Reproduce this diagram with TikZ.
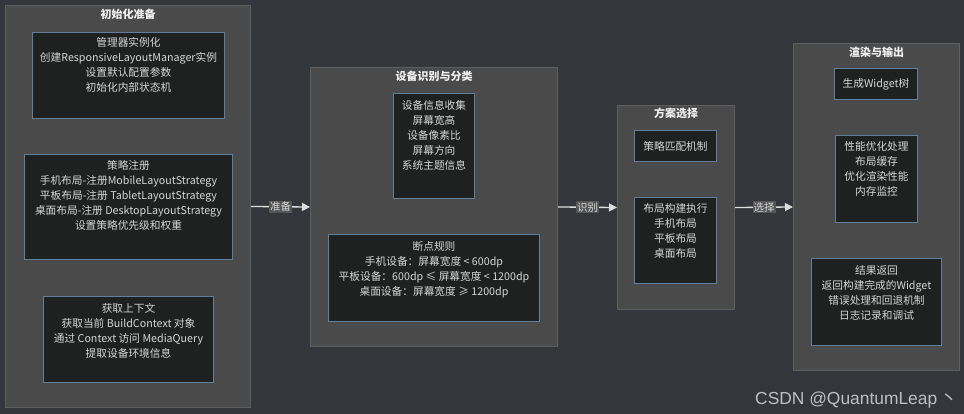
\documentclass[tikz,border=0pt]{standalone}
\usepackage{fontspec}
\setmainfont{Noto Sans CJK SC}
\newfontfamily\wmfont{Liberation Sans}
\usetikzlibrary{arrows.meta}
\definecolor{bgc}{HTML}{33373B}
\definecolor{clfill}{HTML}{4A4A4A}
\definecolor{cldraw}{HTML}{5E5E5E}
\definecolor{ndfill}{HTML}{1F2121}
\definecolor{nddraw}{HTML}{5F7F9C}
\definecolor{txt}{HTML}{D6D6D6}
\definecolor{ttl}{HTML}{F0F0F0}
\definecolor{arr}{HTML}{DDDDDD}
\definecolor{lblbg}{HTML}{555555}
\definecolor{wmc}{HTML}{BCC0C4}
\begin{document}
\begin{tikzpicture}[x=1pt,y=-1pt,
  cluster/.style={draw=cldraw,fill=clfill,line width=1pt,anchor=north west,inner sep=0pt},
  ndbox/.style={draw=nddraw,fill=ndfill,line width=1pt,anchor=north west,inner sep=0pt},
  ndtext/.style={text=txt,font=\fontsize{10.7}{15}\selectfont,align=center,inner sep=0pt,anchor=north},
  ctitle/.style={text=ttl,font=\fontsize{11}{13}\selectfont\bfseries,inner sep=0pt},
  edge/.style={draw=arr,line width=1.3pt,-{Triangle[length=8pt,width=8pt]}},
  elabel/.style={fill=lblbg,text=txt,font=\fontsize{10.5}{12}\selectfont,inner sep=1pt}
]
\fill[bgc] (0,0) rectangle (964,414);
\useasboundingbox (0,0) rectangle (964,414);

% clusters
\node[cluster,minimum width=245pt,minimum height=402pt] (c1) at (5,5) {};
\node[cluster,minimum width=247pt,minimum height=279pt] (c2) at (310,67) {};
\node[cluster,minimum width=117pt,minimum height=204pt] (c3) at (617,105) {};
\node[cluster,minimum width=166pt,minimum height=327pt] (c4) at (793,43) {};

\node[ctitle] (t1) at ([yshift=-9pt]c1.north) {初始化准备};
\node[ctitle] (t2) at ([yshift=-9pt]c2.north) {设备识别与分类};
\node[ctitle] (t3) at ([yshift=-8pt]c3.north) {方案选择};
\node[ctitle] (t4) at ([yshift=-9pt]c4.north) {渲染与输出};

% cluster 1 boxes
\node[ndbox,minimum width=192pt,minimum height=86pt] (n1a) at (32,32) {};
\node[ndtext] (n1at) at ([yshift=-5pt]n1a.north) {管理器实例化\\创建ResponsiveLayoutManager实例\\设置默认配置参数\\初始化内部状态机};
\node[ndbox,minimum width=208pt,minimum height=105pt] (n1b) at (24,154) {};
\node[ndtext] (n1bt) at ([yshift=-6pt]n1b.north) {策略注册\\手机布局-注册MobileLayoutStrategy\\平板布局-注册 TabletLayoutStrategy\\桌面布局-注册 DesktopLayoutStrategy\\设置策略优先级和权重};
\node[ndbox,minimum width=170pt,minimum height=86pt] (n1c) at (43,296) {};
\node[ndtext] (n1ct) at ([yshift=-7pt]n1c.north) {获取上下文\\获取当前 BuildContext 对象\\通过 Context 访问 MediaQuery\\提取设备环境信息};

% cluster 2 boxes
\node[ndbox,minimum width=81pt,minimum height=105pt] (n2a) at (393,93) {};
\node[ndtext] (n2at) at ([yshift=-7pt]n2a.north) {设备信息收集\\屏幕宽高\\设备像素比\\屏幕方向\\系统主题信息};
\node[ndbox,minimum width=211pt,minimum height=87pt] (n2b) at (328,234) {};
\node[ndtext] (n2bt) at ([yshift=-7pt]n2b.north) {断点规则\\手机设备：屏幕宽度 < 600dp\\平板设备：600dp ≤ 屏幕宽度 < 1200dp\\桌面设备：屏幕宽度 ≥ 1200dp};

% cluster 3 boxes
\node[ndbox,minimum width=82pt,minimum height=31pt] (n3a) at (634,130) {};
\node[text=txt,font=\fontsize{10.7}{15}\selectfont,inner sep=0pt] (n3at) at (n3a.center) {策略匹配机制};
\node[ndbox,minimum width=82pt,minimum height=86pt] (n3b) at (634,197) {};
\node[ndtext] (n3bt) at ([yshift=-6pt]n3b.north) {布局构建执行\\手机布局\\平板布局\\桌面布局};

% cluster 4 boxes
\node[ndbox,minimum width=83pt,minimum height=31pt] (n4a) at (834,68) {};
\node[text=txt,font=\fontsize{10.7}{15}\selectfont,inner sep=0pt] (n4at) at (n4a.center) {生成Widget树};
\node[ndbox,minimum width=82pt,minimum height=87pt] (n4b) at (835,135) {};
\node[ndtext] (n4bt) at ([yshift=-6pt]n4b.north) {性能优化处理\\布局缓存\\优化渲染性能\\内存监控};
\node[ndbox,minimum width=130pt,minimum height=87pt] (n4c) at (811,258) {};
\node[ndtext] (n4ct) at ([yshift=-7pt]n4c.north) {结果返回\\返回构建完成的Widget\\错误处理和回退机制\\日志记录和调试};

% edges
\draw[edge] (c1.east) -- node[elabel] (l1) {准备} (c2.west);
\draw[edge] (c2.east) -- node[elabel] (l2) {识别} (c3.west);
\draw[edge] (c3.east) -- node[elabel] (l3) {选择} (c4.west);

% watermark
\node[anchor=base west,text=wmc,font=\wmfont\fontsize{17.4}{20}\selectfont,inner sep=0pt] (wm) at (755,404) {CSDN @QuantumLeap\,{\normalfont 丶}};
\end{tikzpicture}
\end{document}
